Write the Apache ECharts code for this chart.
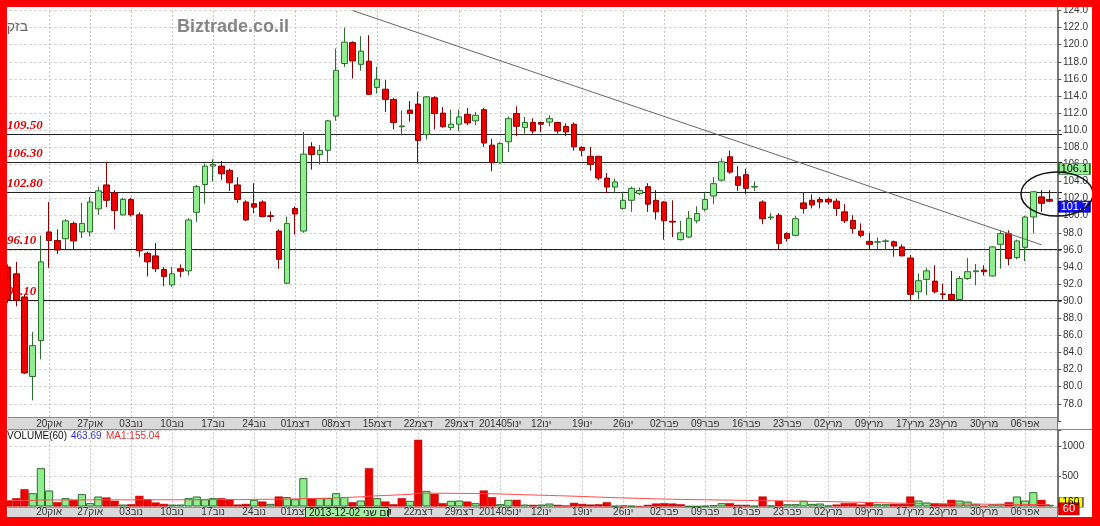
<!DOCTYPE html>
<html><head><meta charset="utf-8">
<script src="https://cdn.jsdelivr.net/npm/echarts@6/dist/echarts.min.js"></script>
<style>html,body{margin:0;padding:0;background:#fff}#c{width:1100px;height:526px}</style>
</head><body><div id="c"></div>
<script>
const dates = [
'2013-10-13','2013-10-14','2013-10-15','2013-10-16','2013-10-17',
'2013-10-20','2013-10-21','2013-10-22','2013-10-23','2013-10-24',
'2013-10-27','2013-10-28','2013-10-29','2013-10-30','2013-10-31',
'2013-11-03','2013-11-04','2013-11-05','2013-11-06','2013-11-07',
'2013-11-10','2013-11-11','2013-11-12','2013-11-13','2013-11-14',
'2013-11-17','2013-11-18','2013-11-19','2013-11-20','2013-11-21',
'2013-11-24','2013-11-25','2013-11-26','2013-11-27','2013-11-28',
'2013-12-01','2013-12-02','2013-12-03','2013-12-04','2013-12-05',
'2013-12-08','2013-12-09','2013-12-10','2013-12-11','2013-12-12',
'2013-12-15','2013-12-16','2013-12-17','2013-12-18','2013-12-19',
'2013-12-22','2013-12-23','2013-12-24','2013-12-25','2013-12-26',
'2013-12-29','2013-12-30','2013-12-31','2014-01-01','2014-01-02',
'2014-01-05','2014-01-06','2014-01-07','2014-01-08','2014-01-09',
'2014-01-12','2014-01-13','2014-01-14','2014-01-15','2014-01-16',
'2014-01-19','2014-01-20','2014-01-21','2014-01-22','2014-01-23',
'2014-01-26','2014-01-27','2014-01-28','2014-01-29','2014-01-30',
'2014-02-02','2014-02-03','2014-02-04','2014-02-05','2014-02-06',
'2014-02-09','2014-02-10','2014-02-11','2014-02-12','2014-02-13',
'2014-02-16','2014-02-17','2014-02-18','2014-02-19','2014-02-20',
'2014-02-23','2014-02-24','2014-02-25','2014-02-26','2014-02-27',
'2014-03-02','2014-03-03','2014-03-04','2014-03-05','2014-03-06',
'2014-03-09','2014-03-10','2014-03-11','2014-03-12','2014-03-13',
'2014-03-17','2014-03-18','2014-03-19','2014-03-20',
'2014-03-23','2014-03-24','2014-03-25','2014-03-26','2014-03-27',
'2014-03-30','2014-03-31','2014-04-01','2014-04-02','2014-04-03',
'2014-04-06','2014-04-07','2014-04-08','2014-04-09'];

const opens = [94.0,93.2,90.5,81.2,85.4, 98.1,97.1,97.3,99.1,98.1, 98.1,100.8,103.6,102.7,100.1,
101.9,100.1,95.6,95.3,93.7, 91.9,93.8,93.55,100.4,103.65, 105.8,105.8,105.3,103.6,101.6,
101.4,101.6,100.0,98.2,92.1, 100.85,98.2,108.05,107.15,107.65, 111.65,117.8,120.25,117.7,118.07,
115.0,114.8,113.6,110.4,112.35, 113.05,109.5,113.8,112.0,110.3, 110.7,111.85,111.1,112.4,108.25,
106.2,108.65,111.95,110.3,110.9, 110.9,110.95,110.9,110.45,110.7, 108.0,106.95,106.95,104.4,103.35,
100.85,101.8,102.6,103.4,101.8, 101.6,99.35,97.2,97.5,99.4, 100.75,102.3,104.15,106.9,104.55,
104.8,103.35,101.6,99.75,100.05, 97.9,97.7,101.5,101.8,101.9, 101.9,101.7,100.45,99.45,98.2,
97.0,96.9,97.0,96.95,96.35, 95.05,91.1,92.55,92.35, 90.85,90.8,90.2,92.65,93.45,
93.65,92.95,96.65,97.9,95.1, 96.3,99.85,102.2,101.9];
const closes = [90.2,90.1,81.6,84.8,94.6, 97.1,96.0,99.4,97.05,99.1, 101.6,102.9,101.8,100.6,101.9,
100.1,95.9,94.6,93.8,92.9, 93.2,93.5,99.5,103.4,105.8, 106.0,104.9,103.85,101.9,99.5,
101.0,99.9,99.9,94.9,99.1, 100.2,107.2,107.15,107.65,111.1, 117.0,120.3,118.1,119.25,114.2,
115.96,113.6,110.9,110.5,111.95, 108.8,113.9,111.95,110.4,110.7, 111.55,110.85,111.75,108.5,106.2,
108.45,111.35,110.45,110.9,109.9, 110.7,111.35,109.9,109.8,108.05, 107.65,106.0,104.4,103.35,103.95,
101.8,103.2,102.95,101.35,100.45, 99.4,99.25,98.0,99.7,100.25, 101.9,103.75,106.3,105.1,103.55,
103.2,103.4,99.65,99.85,96.75, 97.35,99.65,100.85,101.25,101.6, 101.6,100.85,99.4,98.5,97.7,
96.65,96.95,97.05,96.45,95.3, 90.8,92.4,93.55,91.1, 90.8,90.2,92.65,93.45,93.55,
93.45,96.35,97.9,95.0,97.05, 99.85,102.8,101.45,101.7];
const lows = [89.8,89.4,81.5,78.4,83.2, 93.9,95.5,96.1,96.0,97.4, 97.6,100.1,101.0,98.4,100.0,
99.9,95.2,92.9,93.4,91.75, 91.7,92.8,93.0,99.3,101.4, 104.0,104.2,102.9,101.5,99.4,
100.3,99.8,99.3,93.8,92.0, 97.8,98.0,105.4,106.0,106.3, 111.1,117.4,116.05,116.95,114.1,
114.3,112.15,110.1,109.4,111.0, 106.1,108.9,110.1,110.3,110.0, 109.9,110.6,110.6,108.05,105.2,
106.1,107.45,109.3,109.6,109.6, 109.8,110.45,109.6,109.3,107.6, 106.95,105.25,104.15,102.65,102.65,
100.7,100.45,102.4,100.45,99.55, 97.2,97.5,97.1,97.4,99.1, 100.5,101.35,104.0,104.9,102.9,
102.5,102.9,99.0,99.5,96.05, 96.95,97.6,100.25,100.85,100.85, 101.3,99.95,99.15,97.9,97.45,
96.0,96.05,96.05,95.2,95.25, 90.1,90.2,90.7,90.9, 90.2,90.1,90.1,92.5,91.85,
93.0,92.9,93.8,94.2,94.9, 94.7,97.9,100.45,101.6];
const highs = [94.3,94.6,90.8,86.4,97.7, 101.6,98.4,99.6,99.3,101.5, 102.2,103.4,106.3,103.0,102.1,
102.1,100.4,95.8,96.8,94.0, 94.0,94.3,99.7,103.6,106.1, 106.6,106.4,105.5,104.5,101.8,
103.8,101.8,100.5,98.4,99.9, 101.1,109.8,108.6,108.25,111.2, 119.55,122.0,120.4,121.0,121.1,
117.4,115.85,113.8,112.3,113.4, 114.5,114.0,114.0,112.7,112.4, 112.4,112.6,112.15,112.6,109.0,
108.6,111.6,112.8,111.55,111.4, 111.0,111.75,111.0,110.8,110.9, 108.1,108.05,107.0,105.0,104.35,
102.7,103.4,103.3,103.8,103.0, 101.7,101.8,99.4,100.55,101.1, 102.7,104.5,106.7,107.6,105.8,
105.5,104.0,101.8,100.3,100.3, 98.05,99.95,102.7,102.5,102.2, 102.15,102.0,101.35,100.05,99.1,
98.0,97.45,97.25,97.1,96.65, 95.4,93.25,93.9,94.2, 92.05,93.55,92.95,95.05,94.35,
94.2,96.45,98.3,98.3,97.2, 100.0,102.9,103.0,103.0];
const volumes = [100,139,289,222,639, 267,72,139,111,206, 56,167,150,95,33, 39,178,122,67,44,
33,33,139,167,122, 139,139,122,33,44, 111,83,44,167,156, 122,473,139,139,139,
222,156,72,100,639, 139,83,39,139,95, 1112,261,211,56,95, 100,83,56,267,156,
39,111,111,33,28, 33,50,28,17,61, 44,33,39,72,11, 17,11,6,28,50,
56,50,39,6,5, 11,22,56,56,28, 28,11,167,17,95, 39,39,95,44,50,
17,33,56,56,33, 67,39,39,44,44, 167,100,67,56, 44,111,100,83,44,
11,39,44,72,167, 100,239,111,28];
const volumeMA = [100,100,101,103,108,109,109,109,110,110, 110,111,111,111,111,111,112,112,112,112,
112,112,113,113,114,114,115,115,115,115, 120,120,121,122,124,126,132,134,136,138,
145,150,155,160,172,178,184,190,196,202, 220,222,222,221,220,219,218,216,214,212,
208,204,200,196,192,188,184,180,176,172, 167,162,157,152,147,143,139,135,131,127,
124,121,118,116,114,112,110,108,106,104, 102,100,98,96,94,92,90,88,86,84,
82,79,76,73,70,67,64,61,58,55, 53,51,49,47,45,43,42,41,40,39, 38,37,36,35,34,33,33,33];

const tickDates = ['2013-10-20','2013-10-27','2013-11-03','2013-11-10','2013-11-17','2013-11-24',
'2013-12-01','2013-12-08','2013-12-15','2013-12-22','2013-12-29','2014-01-05','2014-01-12',
'2014-01-19','2014-01-26','2014-02-02','2014-02-09','2014-02-16','2014-02-23','2014-03-02',
'2014-03-09','2014-03-17','2014-03-23','2014-03-30','2014-04-06'];
const tickTexts = ['20אוק','27אוק','03נוב','10נוב','17נוב','24נוב','01דצמ','08דצמ','15דצמ','22דצמ',
'29דצמ','201405ינו','12ינו','19ינו','26ינו','02פבר','09פבר','16פבר','23פבר','02מרץ','09מרץ',
'17מרץ','23מרץ','30מרץ','06אפר'];
const priceTicks = [78,80,82,84,86,88,90,92,94,96,98,100,102,104,106,108,110,112,114,116,118,120,122,124];
const volumeTicks = [500, 1000];
const levels = [109.5, 106.3, 102.8, 96.1, 90.1];
const trendFrom = [42, 124.0], trendTo = [126, 96.6];
const priceTags = [106.1, 101.7];
const volTags = [155, 60];

const tickMap = {}; tickDates.forEach((d,i)=>tickMap[d]=tickTexts[i]);
const cats = dates.concat(['']);
const lastIdx = cats.length - 1;
const FONT = 'Liberation Sans';

function mkX(gi, margin){
  return {type:'category', gridIndex:gi, data:cats, boundaryGap:true, z:10,
    axisLine:{show:false}, axisTick:{show:false}, splitLine:{show:false},
    axisLabel:{interval:(i,v)=>tickMap[v]!==undefined, formatter:v=>tickMap[v]||'',
      fontSize:10, color:'#333', margin:margin, verticalAlign:'middle', fontFamily:FONT}};
}
const vlineData = tickDates.map(d=>({xAxis:d}));
const vlineStyle = {color:'#c4c4c4', type:[2,2], width:1};

const candleData = dates.map((d,i)=>[opens[i], closes[i], lows[i], highs[i]]);
const volData = volumes.map((v,i)=>{
  const prev = i ? closes[i-1] : opens[0];
  const up = closes[i] >= prev;
  return {value:v, itemStyle: up ? {color:'#90EE90', borderColor:'#2c6e2c', borderWidth:1}
                                 : {color:'#ee0000', borderColor:'#b00000', borderWidth:0.5}};
});

const option = {
  animation:false, backgroundColor:'#ffffff',
  grid:[{left:4, width:1058, top:10.5, height:410.4, outerBoundsMode:'none'},
        {left:4, width:1058, top:430, height:76.5, outerBoundsMode:'none'}],
  xAxis:[mkX(0,3), mkX(1,6)],
  yAxis:[
    {type:'value', gridIndex:0, position:'right', offset:-4, min:76, max:124, interval:2,
     axisLine:{show:true, lineStyle:{color:'#777'}}, axisTick:{show:true, length:3, lineStyle:{color:'#555'}},
     axisLabel:{formatter:v=>priceTicks.indexOf(v)>=0 ? v.toFixed(1) : '', fontSize:10, color:'#333', margin:5, fontFamily:FONT},
     splitLine:{show:true, lineStyle:{color:'#d6d6d6', type:[3,2]}}},
    {type:'value', gridIndex:1, position:'right', offset:-4, min:0, max:1275, interval:500,
     axisLine:{show:true, lineStyle:{color:'#777'}}, axisTick:{show:true, length:3, lineStyle:{color:'#555'}},
     axisLabel:{formatter:v=>volumeTicks.indexOf(v)>=0 ? String(v) : '', fontSize:10, color:'#333', margin:4, fontFamily:FONT},
     splitLine:{show:true, lineStyle:{color:'#d6d6d6', type:[3,2]}}}
  ],
  series:[
    {type:'line', xAxisIndex:0, yAxisIndex:0, data:[], silent:true,
     markLine:{silent:true, z:1, symbol:['none','none'], animation:false,
       label:{show:false}, lineStyle:vlineStyle, data:vlineData}},
    {type:'line', xAxisIndex:0, yAxisIndex:0, data:[], silent:true,
     markLine:{silent:true, z:1, symbol:['none','none'], animation:false,
       lineStyle:{color:'#222', width:1, type:'solid'},
       label:{show:true, position:'insideStartTop', distance:[3,2], formatter:p=>p.value.toFixed(2),
              color:'#e00000', fontSize:13, fontWeight:'bold', fontStyle:'italic', fontFamily:'Liberation Serif'},
       data:levels.map(v=>({yAxis:v}))}},
    {type:'candlestick', xAxisIndex:0, yAxisIndex:0, z:3, barWidth:6, data:candleData,
     itemStyle:{color:'#90EE90', borderColor:'#2c6e2c', color0:'#ee0000', borderColor0:'#8a0000', borderWidth:1}},
    {type:'line', xAxisIndex:0, yAxisIndex:0, data:[], silent:true, z:4,
     markLine:{silent:true, z:4, symbol:['none','none'], animation:false, label:{show:false},
       lineStyle:{color:'#666', width:1, type:'solid'},
       data:[[{coord:trendFrom},{coord:trendTo}]]},
     markPoint:{silent:true, z:6, symbol:'rect', animation:false,
       data:[
        {coord:[lastIdx, priceTags[0]], symbolSize:[31,11], symbolOffset:[16.5,5.5],
         itemStyle:{color:'#98ee98', borderColor:'#1f5f1f', borderWidth:1},
         label:{show:true, position:'inside', formatter:priceTags[0].toFixed(1), color:'#000', fontSize:11, fontFamily:FONT}},
        {coord:[lastIdx, priceTags[1]], symbolSize:[31,11], symbolOffset:[16.5,5.5],
         itemStyle:{color:'#1010f0', borderColor:'#000080', borderWidth:1},
         label:{show:true, position:'inside', formatter:priceTags[1].toFixed(1), color:'#fff', fontSize:11, fontFamily:FONT}}
       ]}},
    {type:'line', xAxisIndex:1, yAxisIndex:1, data:[], silent:true,
     markLine:{silent:true, z:1, symbol:['none','none'], animation:false,
       label:{show:false}, lineStyle:vlineStyle, data:vlineData},
     markPoint:{silent:true, z:6, symbol:'rect', animation:false,
       data:[
        {coord:[lastIdx, volTags[0]], symbolSize:[24,10], symbolOffset:[13,5],
         itemStyle:{color:'#ffff00', borderColor:'#555', borderWidth:1},
         label:{show:true, position:'inside', formatter:'160', color:'#000', fontSize:10, fontFamily:FONT}},
        {coord:[lastIdx, volTags[1]], symbolSize:[20,12], symbolOffset:[11,6],
         itemStyle:{color:'#ee0000', borderColor:'#a00', borderWidth:1},
         label:{show:true, position:'inside', formatter:String(volTags[1]), color:'#fff', fontSize:11, fontFamily:FONT}}
       ]}},
    {type:'bar', xAxisIndex:1, yAxisIndex:1, z:3, barCategoryGap:'0%', barWidth:'100%', data:volData},
    {type:'line', xAxisIndex:1, yAxisIndex:1, z:4, data:volumeMA, symbol:'none', silent:true,
     lineStyle:{color:'#ff4a4a', width:1}}
  ],
  graphic:[
    {type:'rect', z:5, silent:true, shape:{x:8, y:417, width:1050, height:12}, style:{fill:'#d9d9d9'}},
    {type:'line', z:6, silent:true, shape:{x1:8, y1:417.5, x2:1058, y2:417.5}, style:{stroke:'#8a8a8a', lineWidth:1}},
    {type:'rect', z:5, silent:true, shape:{x:8, y:507, width:1050, height:11}, style:{fill:'#d9d9d9'}},
    {type:'line', z:6, silent:true, shape:{x1:8, y1:507.5, x2:1058, y2:507.5}, style:{stroke:'#9a9a9a', lineWidth:1}},
    {type:'line', z:6, silent:true, shape:{x1:8, y1:429.5, x2:1092, y2:429.5}, style:{stroke:'#8a8a8a', lineWidth:1}},
    {type:'line', z:6, silent:true, shape:{x1:1057.5, y1:7, x2:1057.5, y2:518}, style:{stroke:'#777', lineWidth:1}},
    {type:'text', z:6, silent:true, style:{x:28, y:27, text:'בזק', fill:'#666', font:'14px "Liberation Sans"', textAlign:'right', textVerticalAlign:'middle'}},
    {type:'text', z:6, silent:true, style:{x:177, y:27, text:'Biztrade.co.il', fill:'#858585', font:'bold 18px "Liberation Sans"', textVerticalAlign:'middle'}},
    {type:'text', z:6, silent:true, style:{x:7, y:436, text:'VOLUME(60)', fill:'#111', font:'10px "Liberation Sans"', textVerticalAlign:'middle'}},
    {type:'text', z:6, silent:true, style:{x:71, y:436, text:'463.69', fill:'#3030d0', font:'10px "Liberation Sans"', textVerticalAlign:'middle'}},
    {type:'text', z:6, silent:true, style:{x:106, y:436, text:'MA1:155.04', fill:'#e03030', font:'10px "Liberation Sans"', textVerticalAlign:'middle'}},
    {type:'rect', z:60, silent:true, shape:{x:305.5, y:507.5, width:83, height:11}, style:{fill:'#a6eca6', stroke:'#333', lineWidth:1}},
    {type:'text', z:61, silent:true, style:{x:309, y:513, text:'2013-12-02 יום שני', fill:'#111', font:'10px "Liberation Sans"', textVerticalAlign:'middle'}},
    {type:'ellipse', z:50, silent:true, shape:{cx:1057, cy:194, rx:36, ry:22}, style:{fill:'none', stroke:'#111', lineWidth:1.5}},
    {type:'rect', z:100, silent:true, shape:{x:0, y:0, width:1100, height:7}, style:{fill:'#ff0000'}},
    {type:'rect', z:100, silent:true, shape:{x:0, y:0, width:7, height:526}, style:{fill:'#ff0000'}},
    {type:'rect', z:100, silent:true, shape:{x:1092, y:0, width:8, height:526}, style:{fill:'#ff0000'}},
    {type:'rect', z:100, silent:true, shape:{x:0, y:517, width:1100, height:9}, style:{fill:'#ff0000'}}
  ]
};
const chart = echarts.init(document.getElementById('c'), null, {renderer:'canvas'});
chart.setOption(option);
</script></body></html>
